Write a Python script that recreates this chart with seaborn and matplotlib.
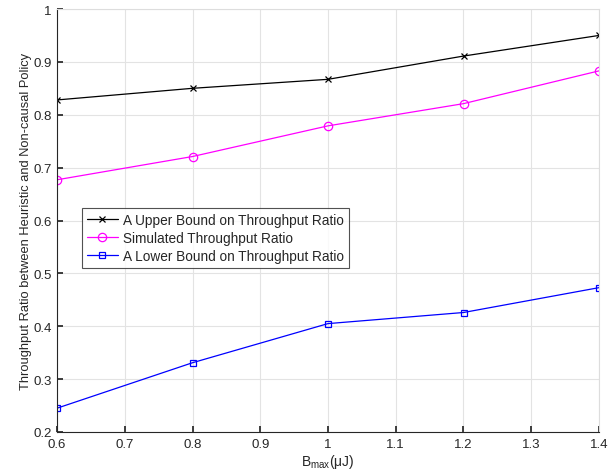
import numpy as np
import pandas as pd
import seaborn as sns
from matplotlib import pyplot as plt

# data
b_max = [0.6, 0.8, 1.0, 1.2, 1.4]
upper_bound = [0.828, 0.850, 0.867, 0.911, 0.950]
simulated = [0.677, 0.721, 0.779, 0.821, 0.883]
lower_bound = [0.245, 0.331, 0.405, 0.426, 0.473]
names = ["A Upper Bound on Throughput Ratio",
         "Simulated Throughput Ratio",
         "A Lower Bound on Throughput Ratio"]
colors = ["black", "magenta", "blue"]
marks = ["x", "o", "s"]

sns.set_theme(style="whitegrid")
plt.rcParams['font.family'] = ['Liberation Sans', 'DejaVu Sans']
plt.rcParams['mathtext.default'] = 'regular'

fig = plt.figure(figsize=(6.13, 4.77), dpi=100)
ax = fig.add_axes([57 / 613, 44 / 477, 542 / 613, 423 / 477])

# one line per series, hollow markers in the line colour
for name, vals, c, m in zip(names, [upper_bound, simulated, lower_bound], colors, marks):
    sns.lineplot(x=b_max, y=vals, color=c, marker=m, linewidth=0.9,
                 markersize=4.5 if m != "o" else 6, markerfacecolor="none",
                 markeredgecolor=c, markeredgewidth=0.9, label=name, ax=ax)

ax.set_xlim(0.6, 1.4)
ax.set_ylim(0.2, 1.0)
ax.set_xticks(np.arange(0.6, 1.41, 0.1))
ax.set_xticklabels(["0.6", "0.7", "0.8", "0.9", "1", "1.1", "1.2", "1.3", "1.4"])
ax.set_yticks(np.arange(0.2, 1.01, 0.1))
ax.set_yticklabels(["0.2", "0.3", "0.4", "0.5", "0.6", "0.7", "0.8", "0.9", "1"])
ax.tick_params(direction="in", length=4, labelsize=9.5, colors="#262626",
               left=True, bottom=True, pad=4)
ax.grid(True, color="#e3e3e3", linewidth=0.8)
for s in ax.spines.values():
    s.set_color("#262626")
    s.set_linewidth(0.8)
ax.spines["top"].set_color("#dddddd")
ax.spines["right"].set_color("#dddddd")

ax.set_xlabel("B$_{max}$($\\mu$J)", fontsize=10, color="#262626", labelpad=2)
ax.set_ylabel("Throughput Ratio between Heuristic and Non-causal Policy",
              fontsize=9.3, color="#262626", labelpad=1)

leg = ax.legend(loc="upper left", bbox_to_anchor=(0.046, 0.53), fontsize=9.8,
                frameon=True, fancybox=False, borderpad=0.35, labelspacing=0.3,
                handlelength=2.3, handletextpad=0.4, borderaxespad=0)
leg.get_frame().set_edgecolor("#262626")
leg.get_frame().set_linewidth(0.8)

fig.savefig("out.png", dpi=100)
